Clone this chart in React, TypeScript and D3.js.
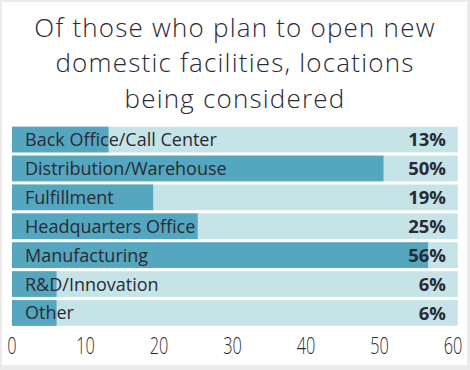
import React from "react";
import * as d3 from "d3";

const categories = [
  "Back Office/Call Center",
  "Distribution/Warehouse",
  "Fulfillment",
  "Headquarters Office",
  "Manufacturing",
  "R&D/Innovation",
  "Other",
];
const values = [13, 50, 19, 25, 56, 6, 6];
const ticks = [0, 10, 20, 30, 40, 50, 60];
const titleLines = [
  "Of those who plan to open new",
  "domestic facilities, locations",
  "being considered",
];

const W = 470;
const H = 370;

export default function App() {
  const x = d3.scaleLinear().domain([0, 60]).range([12, 457.8]);
  const xAxis = d3.scaleLinear().domain([0, 60]).range([12, 453]);
  const y = d3
    .scaleBand<string>()
    .domain(categories)
    .range([126.7, 325.8])
    .paddingInner(0.11);

  const bg = "#c6e4e8";
  const bar = "#55a6bf";
  const ink = "#2a2a33";

  return (
    <div style={{ position: "fixed", left: 0, top: 0 }}>
      <svg width={W} height={H} style={{ display: "block" }}>
        <rect x={0} y={0} width={W} height={H} fill="#ebebeb" />
        <rect x={2} y={2} width={W - 5} height={H - 7} fill="#ffffff" />
        {titleLines.map((t, i) => (
          <text
            key={i}
            x={W / 2}
            y={36.5 + i * 35.5}
            textAnchor="middle"
            fontFamily="'Open Sans', sans-serif"
            fontWeight={300}
            fontSize={26}
            letterSpacing={1.2}
            fill={ink}
          >
            {t}
          </text>
        ))}
        {categories.map((c, i) => (
          <g key={c}>
            <rect
              x={x(0)}
              y={y(c)}
              width={x(60) - x(0)}
              height={y.bandwidth()}
              fill={bg}
            />
            <rect
              x={x(0)}
              y={y(c)}
              width={x(values[i]) - x(0)}
              height={y.bandwidth()}
              fill={bar}
            />
            <text
              x={25}
              y={(y(c) as number) + y.bandwidth() / 2}
              dy="0.36em"
              fontFamily="'Open Sans', sans-serif"
              fontSize={18}
              fill={ink}
            >
              {c}
            </text>
            <text
              x={446}
              y={(y(c) as number) + y.bandwidth() / 2}
              dy="0.36em"
              textAnchor="end"
              fontFamily="'Open Sans', sans-serif"
              fontWeight={700}
              fontSize={18.5}
              fill={ink}
            >
              {values[i]}%
            </text>
          </g>
        ))}
        {ticks.map((t) => (
          <text
            key={t}
            transform={`translate(${xAxis(t)},354) scale(0.68,1)`}
            textAnchor="middle"
            fontFamily="'Open Sans', sans-serif"
            fontWeight={300}
            fontSize={24}
            fill={ink}
          >
            {t}
          </text>
        ))}
      </svg>
    </div>
  );
}
